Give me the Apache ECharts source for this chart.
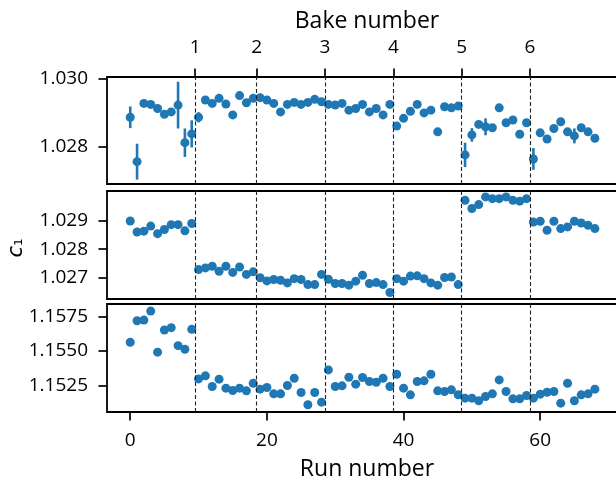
<!DOCTYPE html>
<html><head><meta charset="utf-8">
<script src="https://cdn.jsdelivr.net/npm/echarts@6/dist/echarts.min.js"></script>
<style>html,body{margin:0;padding:0;background:#fff}#c{width:616px;height:483px}</style>
</head><body><div id="c"></div>
<script>
const runNumbers = [0,1,2,3,4,5,6,7,8,9,10,11,12,13,14,15,16,17,18,19,20,21,22,23,24,25,26,27,28,29,30,31,32,33,34,35,36,37,38,39,40,41,42,43,44,45,46,47,48,49,50,51,52,53,54,55,56,57,58,59,60,61,62,63,64,65,66,67,68];
const c1Top = [1.02887,1.02756,1.02928,1.02925,1.02913,1.02896,1.02903,1.02923,1.02812,1.02838,
  1.02887,1.02938,1.02928,1.02943,1.02926,1.02894,1.02951,1.02930,1.02943,1.02945,
  1.02938,1.02928,1.02903,1.02925,1.02931,1.02925,1.02931,1.02940,1.02933,1.02925,
  1.02923,1.02928,1.02908,1.02913,1.02925,1.02903,1.02913,1.02894,1.02925,1.02861,
  1.02884,1.02905,1.02925,1.02900,1.02908,1.02844,1.02918,1.02915,1.02920,1.02776,
  1.02835,1.02866,1.02859,1.02856,1.02915,1.02871,1.02879,1.02837,1.02871,1.02764,
  1.02841,1.02823,1.02854,1.02874,1.02844,1.02832,1.02856,1.02844,1.02825];
const c1TopErr = [0.00032,0.00053,0.00006,0.00006,0.00006,0.00006,0.00006,0.00069,0.00042,0.00040,
  0.00015,0.00006,0.00006,0.00006,0.00006,0.00006,0.00006,0.00006,0.00006,0.00006,
  0.00006,0.00006,0.00006,0.00006,0.00006,0.00006,0.00006,0.00006,0.00006,0.00006,
  0.00006,0.00006,0.00006,0.00006,0.00006,0.00006,0.00006,0.00006,0.00006,0.00008,
  0.00008,0.00006,0.00006,0.00006,0.00006,0.00006,0.00006,0.00006,0.00006,0.00036,
  0.00020,0.00008,0.00025,0.00006,0.00006,0.00006,0.00006,0.00006,0.00006,0.00032,
  0.00006,0.00006,0.00006,0.00006,0.00006,0.00022,0.00006,0.00006,0.00006];
const c1Mid = [1.02900,1.02861,1.02864,1.02882,1.02855,1.02870,1.02887,1.02887,1.02865,1.02891,
  1.02728,1.02734,1.02740,1.02722,1.02740,1.02718,1.02737,1.02711,1.02720,1.02699,
  1.02688,1.02693,1.02690,1.02681,1.02696,1.02693,1.02675,1.02675,1.02711,1.02694,
  1.02679,1.02679,1.02673,1.02687,1.02708,1.02679,1.02682,1.02675,1.02647,1.02696,
  1.02687,1.02705,1.02706,1.02696,1.02681,1.02673,1.02700,1.02702,1.02675,1.02973,
  1.02944,1.02958,1.02985,1.02979,1.02979,1.02985,1.02973,1.02970,1.02979,1.02896,
  1.02899,1.02867,1.02899,1.02873,1.02879,1.02899,1.02893,1.02885,1.02873];
const c1Bottom = [1.15563,1.15718,1.15723,1.15788,1.15491,1.15651,1.15668,1.15538,1.15512,1.15656,
  1.15298,1.15320,1.15243,1.15296,1.15231,1.15214,1.15231,1.15212,1.15267,1.15224,
  1.15236,1.15190,1.15190,1.15250,1.15303,1.15200,1.15111,1.15200,1.15130,1.15363,
  1.15243,1.15248,1.15310,1.15260,1.15308,1.15279,1.15274,1.15303,1.15243,1.15332,
  1.15231,1.15183,1.15279,1.15284,1.15332,1.15212,1.15207,1.15219,1.15183,1.15159,
  1.15159,1.15140,1.15171,1.15190,1.15291,1.15207,1.15154,1.15154,1.15178,1.15159,
  1.15188,1.15202,1.15207,1.15123,1.15267,1.15140,1.15183,1.15190,1.15224];
const bakePositions = [9.5,18.5,28.5,38.5,48.5,58.5];
const bakeLabels = ['1','2','3','4','5','6'];
const runTicks = [0,20,40,60];
const topTicks = [1.028,1.030];
const midTicks = [1.027,1.028,1.029];
const bottomTicks = [1.1525,1.1550,1.1575];

const FONT = 'Open Sans';
const BLUE = '#1f77b4';
const chart = echarts.init(document.getElementById('c'), null, {renderer:'canvas'});

const gridBase = {left:107, width:520, show:true, borderColor:'#000', borderWidth:1.8,
  backgroundColor:'transparent', outerBoundsMode:'none', containLabel:false};
const grids = [
  Object.assign({top:77, height:107}, gridBase),
  Object.assign({top:191, height:108}, gridBase),
  Object.assign({top:304, height:108}, gridBase)
];
const X_MIN = -3.4, X_MAX = 72.7;
function xAx(gi, extra){
  return Object.assign({type:'value', gridIndex:gi, min:X_MIN, max:X_MAX,
    axisLine:{show:false, onZero:false}, splitLine:{show:false}, axisTick:{show:false}, axisLabel:{show:false}}, extra||{});
}
const tickStyle = {lineStyle:{color:'#000', width:1.7}, length:8.5, inside:false};
const labelStyle = {color:'#000', fontFamily:FONT, fontSize:19};
function yAx(gi, mn, mx, ticks, dec){
  return {type:'value', gridIndex:gi, min:mn, max:mx, scale:true,
    axisLine:{show:false, onZero:false}, splitLine:{show:false},
    axisTick:Object.assign({show:true, customValues:ticks}, tickStyle),
    axisLabel:Object.assign({show:true, customValues:ticks, margin:19, formatter:v=>Number(v).toFixed(dec)}, labelStyle)};
}
const markLine = {silent:true, symbol:['none','none'], animation:false, label:{show:false},
  lineStyle:{type:[4,2.5], color:'#222', width:1.1},
  data: bakePositions.map(x=>({xAxis:x}))};

const pts = arr => arr.map((v,i)=>[runNumbers[i], v]);

chart.setOption({
  animation:false,
  grid:grids,
  xAxis:[
    xAx(0), xAx(1),
    xAx(2, {axisTick:Object.assign({show:true, customValues:runTicks}, tickStyle),
      axisLabel:Object.assign({show:true, customValues:runTicks, margin:19}, labelStyle),
      name:'Run number', nameLocation:'middle', nameGap:46,
      nameTextStyle:{color:'#000', fontFamily:FONT, fontSize:23}}),
    xAx(0, {position:'top',
      axisTick:Object.assign({show:true, customValues:bakePositions}, tickStyle),
      axisLabel:Object.assign({show:true, customValues:bakePositions, margin:20,
        formatter:v=>bakeLabels[bakePositions.indexOf(v)]}, labelStyle),
      name:'Bake number', nameLocation:'middle', nameGap:44,
      nameTextStyle:{color:'#000', fontFamily:FONT, fontSize:23}})
  ],
  yAxis:[
    yAx(0, 1.02690, 1.03006, topTicks, 3),
    yAx(1, 1.02624, 1.03006, midTicks, 3),
    yAx(2, 1.15059, 1.15839, bottomTicks, 4)
  ],
  series:[
    {type:'custom', xAxisIndex:0, yAxisIndex:0, silent:true,
      data: c1Top.map((v,i)=>[runNumbers[i], v - c1TopErr[i], v + c1TopErr[i]]),
      renderItem:(params, api)=>{
        const p1 = api.coord([api.value(0), api.value(1)]);
        const p2 = api.coord([api.value(0), api.value(2)]);
        return {type:'line', shape:{x1:p1[0], y1:p1[1], x2:p2[0], y2:p2[1]},
          style:{stroke:BLUE, lineWidth:2.6}};
      }, z:2},
    {type:'scatter', xAxisIndex:0, yAxisIndex:0, data:pts(c1Top), symbolSize:9,
      itemStyle:{color:BLUE, opacity:1}, markLine:markLine, z:3},
    {type:'scatter', xAxisIndex:1, yAxisIndex:1, data:pts(c1Mid), symbolSize:9,
      itemStyle:{color:BLUE, opacity:1}, markLine:markLine, z:3},
    {type:'scatter', xAxisIndex:2, yAxisIndex:2, data:pts(c1Bottom), symbolSize:9,
      itemStyle:{color:BLUE, opacity:1}, markLine:markLine, z:3}
  ],
  graphic:[{type:'text', x:17, y:248, rotation:Math.PI/2,
    style:{text:'{i|c}{s|₁}', align:'center', verticalAlign:'middle',
      rich:{i:{fontFamily:'DejaVu Sans', fontStyle:'italic', fontSize:21, fill:'#000', fontWeight:'normal'},
            s:{fontFamily:'DejaVu Sans', fontSize:18, fill:'#000'}}}}]
});
</script>
</body></html>
